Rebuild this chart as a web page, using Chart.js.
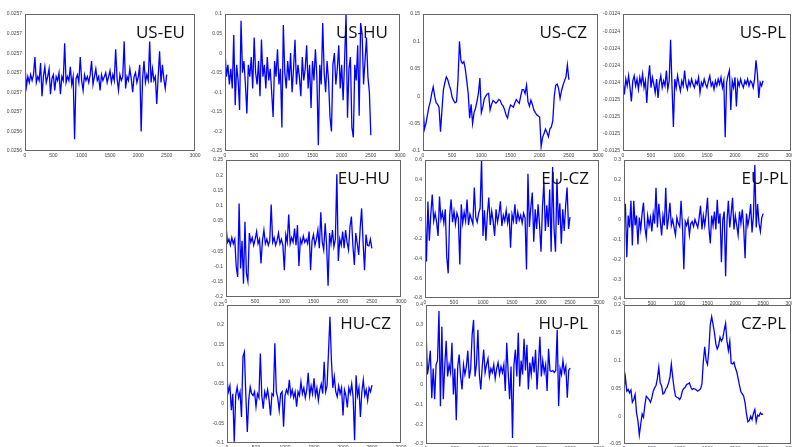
<!DOCTYPE html>
<html>
<head>
<meta charset="utf-8">
<script src="https://cdn.jsdelivr.net/npm/chart.js@4.4.1/dist/chart.umd.min.js"></script>
<style>
  html, body { margin: 0; padding: 0; background: #fff; }
  body { width: 792px; height: 447px; overflow: hidden; position: relative; }
  canvas { position: absolute; }
</style>
</head>
<body>
<script>
// x axis is shared by every panel
const xTicks = [0, 500, 1000, 1500, 2000, 2500, 3000];

// US-EU
const usEuYTicks = [0.02563, 0.02564, 0.02565, 0.02566, 0.02567, 0.02568, 0.02569, 0.0257];
const usEuYLabels = ['0.0256', '0.0256', '0.0257', '0.0257', '0.0257', '0.0257', '0.0257', '0.0257'];
const usEuValues = [
  0.025673, 0.025663, 0.025668, 0.025665, 0.025669, 0.025666, 0.025669, 0.025678, 0.025665, 0.025668,
  0.025666, 0.025675, 0.025658, 0.025668, 0.025673, 0.025665, 0.025668, 0.025672, 0.025659, 0.025667,
  0.025669, 0.025661, 0.025668, 0.025666, 0.025670, 0.025659, 0.025668, 0.025666, 0.025685, 0.025665,
  0.025668, 0.025666, 0.025673, 0.025664, 0.025668, 0.025636, 0.025667, 0.025669, 0.025665, 0.025678,
  0.025666, 0.025661, 0.025669, 0.025666, 0.025668, 0.025665, 0.025669, 0.025676, 0.025664, 0.025668,
  0.025672, 0.025666, 0.025668, 0.025661, 0.025669, 0.025666, 0.025668, 0.025670, 0.025665, 0.025668,
  0.025671, 0.025665, 0.025669, 0.025666, 0.025682, 0.025667, 0.025661, 0.025669, 0.025666, 0.025668,
  0.025686, 0.025662, 0.025668, 0.025666, 0.025672, 0.025667, 0.025660, 0.025668, 0.025670, 0.025665,
  0.025668, 0.025674, 0.025640, 0.025667, 0.025676, 0.025665, 0.025669, 0.025666, 0.025686, 0.025665,
  0.025672, 0.025666, 0.025668, 0.025654, 0.025668, 0.025681, 0.025665, 0.025674, 0.025667, 0.025662,
  0.025669
];

// US-HU
const usHuYTicks = [-0.25, -0.2, -0.15, -0.1, -0.05, 0, 0.05, 0.1];
const usHuValues = [
  0.005, -0.06, -0.03, -0.08, -0.04, -0.09, 0.046, -0.133, -0.03, -0.07,
  -0.145, 0.083, -0.05, -0.02, -0.08, -0.154, -0.03, -0.06, -0.01, -0.09,
  0.04, -0.05, -0.08, -0.02, -0.11, 0.035, -0.06, -0.03, -0.09, -0.01,
  -0.07, -0.04, -0.1, -0.163, -0.02, -0.06, 0.01, -0.08, -0.04, -0.19,
  0.072, -0.05, -0.09, -0.02, -0.07, 0.0, -0.1, -0.04, 0.034, -0.08,
  -0.03, -0.06, -0.11, -0.01, -0.07, -0.04, 0.02, -0.09, -0.03, -0.14,
  -0.02, -0.07, 0.01, -0.06, -0.235, -0.03, -0.08, 0.077, -0.05, -0.1,
  -0.02, -0.07, -0.163, -0.2, -0.03, 0.0, -0.08, -0.04, 0.02, -0.09,
  -0.03, -0.12, -0.02, 0.1, -0.165, -0.04, -0.01, -0.19, -0.215, -0.03,
  -0.07, 0.02, -0.16, 0.077, 0.05, -0.08, -0.02, 0.04, -0.06, -0.1,
  -0.21
];

// US-CZ
const usCzYTicks = [-0.1, -0.05, 0, 0.05, 0.1, 0.15];
const usCzValues = [
  -0.02, -0.06, -0.05, -0.035, -0.02, -0.01, 0.005, 0.017, 0.0, -0.012,
  -0.015, -0.02, -0.065, -0.025, 0.012, 0.025, 0.035, 0.03, 0.02, 0.012,
  -0.002, -0.008, -0.012, -0.01, 0.03, 0.1, 0.065, 0.06, 0.063, 0.05,
  0.028, 0.005, -0.04, -0.015, -0.05, -0.03, -0.022, -0.01, 0.005, 0.033,
  -0.03, -0.02, -0.005, 0.0, 0.004, 0.005, -0.025, -0.015, -0.008, -0.01,
  -0.013, -0.01, -0.006, -0.008, -0.015, -0.018, -0.025, -0.035, -0.04, -0.025,
  -0.016, -0.018, -0.02, -0.012, -0.006, -0.01, -0.013, 0.0, 0.012, 0.012,
  0.005, 0.02, -0.01, -0.018, -0.007, -0.015, -0.025, -0.03, -0.034, -0.036,
  -0.038, -0.092, -0.075, -0.068, -0.06, -0.066, -0.074, -0.06, -0.056, -0.045,
  0.0, 0.02, 0.022, 0.014, -0.004, 0.01, 0.02, 0.028, 0.035, 0.057,
  0.03
];

// US-PL
const usPlYTicks = [-0.01249, -0.01248, -0.01247, -0.01246, -0.01245, -0.01244, -0.01243, -0.01242, -0.01241];
const usPlYLabels = ['-0.0125', '-0.0125', '-0.0125', '-0.0125', '-0.0124', '-0.0124', '-0.0124', '-0.0124', '-0.0124'];
const usPlValues = [
  -0.012449, -0.012457, -0.012448, -0.012452, -0.012446, -0.012453, -0.012461, -0.012449, -0.012446, -0.012452,
  -0.012448, -0.012454, -0.012447, -0.012451, -0.012445, -0.012453, -0.012449, -0.012462, -0.012448, -0.01244,
  -0.012453, -0.012447, -0.012451, -0.012456, -0.012448, -0.012459, -0.01245, -0.012446, -0.012453, -0.012449,
  -0.012452, -0.012443, -0.012454, -0.012449, -0.012425, -0.012452, -0.012476, -0.012448, -0.012453, -0.012446,
  -0.012451, -0.012455, -0.012449, -0.012452, -0.012443, -0.012451, -0.012454, -0.012449, -0.012452, -0.012448,
  -0.012451, -0.012453, -0.012449, -0.012451, -0.012447, -0.012456, -0.01245, -0.012452, -0.012448, -0.012451,
  -0.012453, -0.012449, -0.012446, -0.012452, -0.01245, -0.012454, -0.012449, -0.012452, -0.012448, -0.012451,
  -0.012447, -0.012453, -0.012449, -0.012482, -0.01245, -0.012446, -0.012443, -0.012466, -0.012449, -0.012453,
  -0.012447, -0.012464, -0.012449, -0.012452, -0.012448, -0.012451, -0.012453, -0.012449, -0.012451, -0.012448,
  -0.012452, -0.012449, -0.01245, -0.012453, -0.012448, -0.012437, -0.012445, -0.012459, -0.01245, -0.012452,
  -0.012449
];

// EU-HU
const euHuYTicks = [-0.2, -0.15, -0.1, -0.05, 0, 0.05, 0.1, 0.15, 0.2, 0.25];
const euHuValues = [
  0.035, -0.02, -0.01, -0.03, -0.005, -0.025, -0.01, -0.1, -0.134, 0.107,
  -0.106, -0.015, -0.156, 0.047, -0.123, -0.148, 0.01, -0.02, -0.005, -0.03,
  -0.01, 0.015, -0.025, -0.01, -0.09, -0.015, 0.02, -0.025, -0.01, -0.03,
  -0.015, 0.104, -0.02, -0.005, -0.03, -0.015, 0.01, -0.025, -0.01, -0.03,
  -0.112, 0.005, -0.02, 0.071, -0.025, -0.005, -0.02, 0.025, -0.03, 0.036,
  -0.098, -0.01, -0.025, 0.0, -0.02, -0.01, -0.025, 0.015, -0.112, -0.015,
  0.005, -0.03, -0.01, 0.02, -0.04, 0.078, -0.02, -0.045, 0.042, -0.03,
  -0.163, 0.01, -0.025, 0.02, -0.035, -0.01, 0.203, -0.082, -0.01, -0.03,
  0.015, -0.04, 0.02, -0.02, -0.045, 0.03, 0.064, -0.03, -0.095, 0.01,
  -0.025, -0.062, 0.025, 0.091, -0.02, -0.112, 0.005, -0.03, -0.032, -0.01,
  -0.04
];

// EU-CZ
const euCzYTicks = [-0.8, -0.6, -0.4, -0.2, 0, 0.2, 0.4, 0.6];
const euCzValues = [
  0.12, -0.43, 0.18, -0.22, 0.05, 0.25, -0.02, 0.06, -0.03, -0.17,
  0.23, 0.0, 0.07, -0.04, 0.1, -0.38, -0.55, 0.04, 0.2, -0.03,
  0.08, -0.05, 0.06, 0.01, -0.46, 0.15, -0.04, 0.07, -0.02, 0.2,
  -0.06, 0.05, 0.0, -0.05, 0.32, 0.02, -0.03, 0.06, 0.11, 0.61,
  -0.17, 0.09, -0.22, 0.05, 0.22, -0.06, 0.08, -0.02, -0.17, 0.1,
  -0.03, 0.05, 0.18, -0.07, 0.04, -0.02, 0.09, -0.04, 0.06, -0.29,
  0.05, -0.02, 0.15, -0.05, 0.07, -0.01, 0.04, -0.04, 0.06, 0.01,
  -0.51, 0.46, -0.08, 0.12, 0.27, -0.23, 0.1, -0.1, 0.15, -0.06,
  -0.33, 0.12, 0.38, -0.12, 0.14, -0.08, 0.3, -0.33, 0.53, -0.1,
  -0.33, 0.41, -0.06, 0.16, -0.25, 0.1, -0.12, 0.14, 0.32, -0.1,
  0.02
];

// EU-PL
const euPlYTicks = [-0.4, -0.3, -0.2, -0.1, 0, 0.1, 0.2, 0.3];
const euPlValues = [
  -0.01, 0.08, -0.19, 0.02, -0.04, 0.095, -0.13, 0.095, -0.03, 0.02,
  -0.125, 0.01, -0.05, 0.03, 0.085, -0.04, -0.09, 0.02, -0.03, 0.01,
  -0.06, 0.03, -0.02, 0.16, -0.04, 0.08, 0.0, -0.08, 0.02, -0.03,
  0.16, -0.05, 0.01, 0.085, -0.03, 0.0, -0.04, -0.078, 0.01, -0.02,
  -0.035, 0.095, -0.03, -0.25, -0.01, -0.03, 0.0, -0.078, -0.02, -0.01,
  -0.035, 0.0, -0.02, -0.04, 0.01, 0.07, -0.05, 0.02, -0.03, 0.03,
  0.11, -0.04, -0.12, 0.02, -0.03, 0.04, -0.05, 0.1, -0.02, 0.03,
  -0.215, 0.0, 0.04, -0.285, -0.01, 0.095, -0.04, 0.03, 0.11, -0.05,
  0.02, -0.03, -0.078, 0.04, -0.02, 0.05, -0.04, -0.195, 0.03, -0.03,
  0.01, 0.078, -0.065, 0.02, 0.275, -0.04, 0.078, -0.02, -0.06, 0.01,
  0.03
];

// HU-CZ
const huCzYTicks = [-0.1, -0.05, 0, 0.05, 0.1, 0.15, 0.2, 0.25];
const huCzValues = [
  0.06, 0.03, 0.045, -0.017, 0.025, -0.097, 0.02, 0.042, 0.015, 0.03,
  -0.034, 0.119, 0.131, 0.02, -0.072, 0.01, 0.042, 0.025, 0.02, 0.03,
  -0.008, 0.025, 0.015, 0.127, 0.02, -0.013, 0.03, 0.015, 0.035, 0.01,
  -0.03, 0.025, 0.02, 0.153, 0.03, 0.015, -0.017, 0.025, 0.03, -0.059,
  0.02, 0.035, 0.025, 0.06, 0.02, 0.035, 0.015, 0.03, -0.008, 0.03,
  0.02, 0.055, 0.025, 0.04, 0.015, 0.035, 0.078, 0.02, 0.045, 0.025,
  0.064, 0.02, 0.04, 0.008, 0.035, 0.05, 0.025, 0.106, 0.03, 0.045,
  0.131, 0.22, 0.11, 0.04, 0.068, 0.03, 0.017, 0.045, 0.025, 0.04,
  -0.03, 0.035, 0.02, -0.01, 0.04, 0.025, 0.05, 0.015, -0.093, 0.072,
  0.02, 0.04, -0.034, 0.03, 0.06, 0.02, 0.035, 0.008, 0.04, 0.03,
  0.047
];

// HU-PL
const huPlYTicks = [-0.3, -0.2, -0.1, 0, 0.1, 0.2, 0.3, 0.4];
const huPlValues = [
  0.28, 0.05, 0.1, 0.17, -0.07, 0.08, -0.075, 0.1, 0.12, 0.37,
  -0.11, 0.29, -0.075, 0.09, 0.22, 0.04, 0.1, 0.06, 0.21, -0.05,
  0.08, -0.18, 0.09, 0.15, 0.04, -0.025, 0.1, 0.05, 0.09, 0.17,
  0.03, 0.08, 0.25, 0.325, 0.04, 0.1, 0.275, 0.05, -0.025, 0.09,
  0.175, 0.06, 0.1, 0.13, 0.04, 0.08, 0.06, 0.1, 0.03, 0.08,
  0.11, 0.05, 0.09, 0.06, 0.1, -0.033, 0.21, 0.06, -0.075, 0.09,
  -0.27, 0.1, 0.175, 0.04, 0.26, -0.01, 0.12, 0.05, 0.23, 0.07,
  0.2, -0.025, 0.11, 0.05, 0.14, 0.06, 0.175, -0.025, 0.1, 0.24,
  0.04, 0.12, 0.06, 0.1, -0.033, 0.18, 0.07, 0.065, 0.07, 0.06,
  0.07, 0.275, -0.108, 0.08, 0.05, 0.12, 0.06, 0.09, -0.067, 0.07,
  0.083
];

// CZ-PL
const czPlYTicks = [-0.05, 0, 0.05, 0.1, 0.15, 0.2];
const czPlValues = [
  0.048, 0.07, 0.045, 0.048, 0.042, 0.047, 0.025, 0.03, 0.039, 0.006,
  -0.008, -0.034, -0.015, 0.004, -0.002, 0.02, 0.036, 0.033, 0.03, 0.025,
  0.033, 0.045, 0.051, 0.055, 0.068, 0.088, 0.06, 0.055, 0.04, 0.042,
  0.049, 0.052, 0.06, 0.07, 0.094, 0.07, 0.05, 0.036, 0.034, 0.033,
  0.03, 0.035, 0.046, 0.05, 0.052, 0.057, 0.058, 0.06, 0.052, 0.048,
  0.05, 0.049, 0.047, 0.045, 0.047, 0.049, 0.058, 0.098, 0.125, 0.1,
  0.093, 0.12, 0.165, 0.179, 0.165, 0.15, 0.13, 0.121, 0.127, 0.142,
  0.135, 0.14, 0.155, 0.167, 0.135, 0.118, 0.135, 0.095, 0.094, 0.097,
  0.087, 0.08, 0.068, 0.055, 0.044, 0.04, 0.036, 0.024, 0.004, -0.01,
  -0.008, 0.0, -0.006, 0.005, 0.012, -0.01, 0.002, 0.0, 0.006, 0.003,
  0.004
];

const lastX = 2500;

// plot boxes (left, top, right, bottom)
const panels = [
  { title: 'US-EU', values: usEuValues, yTicks: usEuYTicks, yLabels: usEuYLabels, box: [25, 14, 195, 151], padL: 25, titleGap: 10 },
  { title: 'US-HU', values: usHuValues, yTicks: usHuYTicks, box: [225, 14, 400, 151], padL: 28, titleGap: 12 },
  { title: 'US-CZ', values: usCzValues, yTicks: usCzYTicks, box: [423, 14, 598, 151], padL: 28, titleGap: 11 },
  { title: 'US-PL', values: usPlValues, yTicks: usPlYTicks, yLabels: usPlYLabels, box: [623, 14, 791, 151], padL: 28, titleGap: 5 },
  { title: 'EU-HU', values: euHuValues, yTicks: euHuYTicks, box: [226, 160, 401, 297], padL: 28, titleGap: 11 },
  { title: 'EU-CZ', values: euCzValues, yTicks: euCzYTicks, box: [425, 160, 599, 298], padL: 28, titleGap: 10 },
  { title: 'EU-PL', values: euPlValues, yTicks: euPlYTicks, box: [624, 160, 791, 299], padL: 28, titleGap: 3 },
  { title: 'HU-CZ', values: huCzValues, yTicks: huCzYTicks, box: [227, 305, 401, 443], padL: 28, titleGap: 10 },
  { title: 'HU-PL', values: huPlValues, yTicks: huPlYTicks, box: [426, 305, 599, 444], padL: 28, titleGap: 11 },
  { title: 'CZ-PL', values: czPlValues, yTicks: czPlYTicks, box: [624, 305, 791, 444], padL: 28, titleGap: 5 }
];

const tickFont = { family: '"Liberation Sans", Arial, sans-serif', size: 5 };
const tickColor = '#444';

// frame round the plot area + panel name in the top right corner
const framePlugin = {
  id: 'frame',
  afterDraw(chart, args, opts) {
    const { ctx, chartArea: a } = chart;
    ctx.save();
    ctx.strokeStyle = '#666';
    ctx.lineWidth = 1;
    ctx.strokeRect(Math.round(a.left) + 0.5, Math.round(a.top) + 0.5,
      Math.round(a.right - a.left) - 1, Math.round(a.bottom - a.top) - 1);
    ctx.fillStyle = '#111';
    ctx.font = '17px "Open Sans", sans-serif';
    ctx.textAlign = 'right';
    ctx.textBaseline = 'alphabetic';
    ctx.fillText(opts.title, a.right - opts.gap, a.top + 24);
    ctx.restore();
  }
};

function makePanel(p) {
  const [l, t, r, b] = p.box;
  const padT = 5, padR = 8, padB = 10;
  const w = r - l + p.padL + padR;
  const h = b - t + padT + padB;

  const canvas = document.createElement('canvas');
  canvas.width = w;
  canvas.height = h;
  canvas.style.left = (l - p.padL) + 'px';
  canvas.style.top = (t - padT) + 'px';
  canvas.style.width = w + 'px';
  canvas.style.height = h + 'px';
  document.body.appendChild(canvas);

  const step = lastX / (p.values.length - 1);
  const points = p.values.map((v, i) => ({ x: i * step, y: v }));

  new Chart(canvas, {
    type: 'line',
    data: {
      datasets: [{
        data: points,
        borderColor: '#0000ff',
        borderWidth: 1.3,
        pointRadius: 0,
        tension: 0
      }]
    },
    options: {
      responsive: false,
      animation: false,
      devicePixelRatio: 1,
      layout: { padding: { left: 0, top: padT, right: padR, bottom: 0 } },
      plugins: {
        legend: { display: false },
        tooltip: { enabled: false },
        frame: { title: p.title, gap: p.titleGap }
      },
      scales: {
        x: {
          type: 'linear',
          min: xTicks[0],
          max: xTicks[xTicks.length - 1],
          grid: { display: false, drawTicks: false },
          border: { display: false },
          afterBuildTicks: s => { s.ticks = xTicks.map(v => ({ value: v })); },
          afterFit: s => {
            s.height = padB;
            s.paddingLeft = s.paddingRight = s.paddingTop = s.paddingBottom = 0;
          },
          ticks: {
            font: tickFont, color: tickColor, padding: 2,
            maxRotation: 0, autoSkip: false,
            callback: v => String(v)
          }
        },
        y: {
          min: p.yTicks[0],
          max: p.yTicks[p.yTicks.length - 1],
          grid: { display: false, drawTicks: false },
          border: { display: false },
          afterBuildTicks: s => { s.ticks = p.yTicks.map(v => ({ value: v })); },
          afterFit: s => {
            s.width = p.padL;
            s.paddingLeft = s.paddingRight = s.paddingTop = s.paddingBottom = 0;
          },
          ticks: {
            font: tickFont, color: tickColor, padding: 3, autoSkip: false,
            callback: (v, i) => p.yLabels ? p.yLabels[i] : String(p.yTicks[i])
          }
        }
      }
    },
    plugins: [framePlugin]
  });
}

panels.forEach(makePanel);
</script>
</body>
</html>
